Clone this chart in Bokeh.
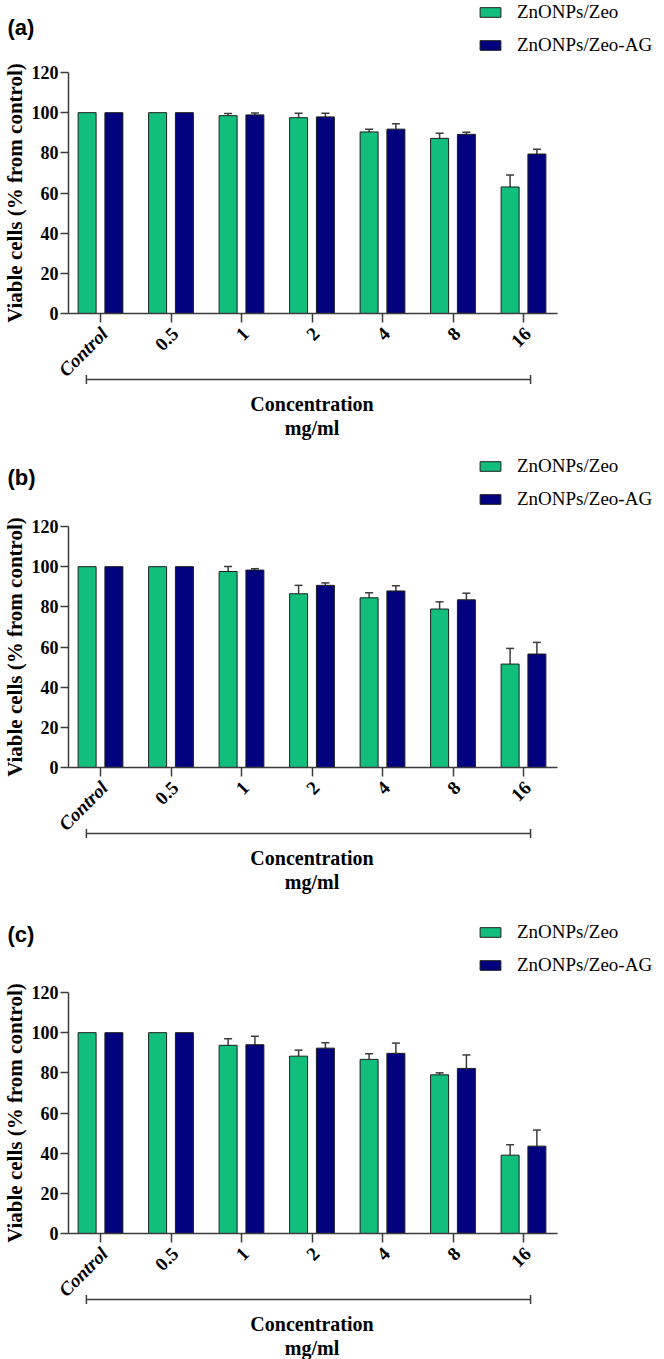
from math import pi
from bokeh.plotting import figure
from bokeh.layouts import column
from bokeh.models import (ColumnDataSource, Range1d, FixedTicker, Whisker, TeeHead,
                          LabelSet, Label, LinearAxis)
from bokeh.transform import dodge
from bokeh.core.properties import value
from bokeh.embed import file_html
from bokeh.resources import INLINE

# ---------------- data ----------------
categories = ["Control", "0.5", "1", "2", "4", "8", "16"]
category_styles = ["bold italic", "bold", "bold", "bold", "bold", "bold", "bold"]
series_names = ["ZnONPs/Zeo", "ZnONPs/Zeo-AG"]
y_ticks = [0, 20, 40, 60, 80, 100, 120]

a_zeo = [100, 100, 98.5, 97.5, 90.4, 87.2, 63.0]
a_zeo_err = [0, 0, 1.1, 2.2, 1.4, 2.5, 6.0]
a_ag = [100, 100, 98.9, 97.9, 91.8, 89.2, 79.4]
a_ag_err = [0, 0, 0.9, 1.8, 2.7, 1.0, 2.4]

b_zeo = [100, 100, 97.6, 86.5, 84.5, 78.9, 51.5]
b_zeo_err = [0, 0, 2.5, 4.2, 2.5, 3.6, 7.8]
b_ag = [100, 100, 98.3, 90.7, 87.9, 83.5, 56.5]
b_ag_err = [0, 0, 0.7, 1.2, 2.6, 3.3, 5.8]

c_zeo = [100, 100, 93.7, 88.3, 86.7, 79.0, 39.0]
c_zeo_err = [0, 0, 3.3, 3.0, 2.8, 1.0, 5.2]
c_ag = [100, 100, 94.0, 92.3, 89.7, 82.2, 43.5]
c_ag_err = [0, 0, 4.2, 2.7, 5.1, 6.7, 8.0]

# ---------------- style / geometry ----------------
GREEN = "#12BE7B"
NAVY = "#02027F"
EDGE = "#1e1e1e"
AXIS = "#3c3c3c"
SERIF = "Liberation Serif"
SANS = "Liberation Sans"
OFF = 0.19
BAR_W = 0.255
W = 664
PX_X = 70.5          # pixels per category step
X0_PX = 100          # pixel of first category
PX_Y = 241 / 120     # pixels per percent
AXIS_X_PX = 68       # pixel of the y axis
AXIS_END_PX = 557    # pixel where x axis ends


def px_to_x(px):
    return (px - X0_PX) / PX_X


def make_panel(tag, zeo, zeo_err, ag, ag_err, height, zero_px, tag_px, legend_px):
    # zero_px / tag_px / legend_px : vertical pixel positions inside the panel
    y_end = zero_px / PX_Y
    y_start = -(height - zero_px) / PX_Y
    p = figure(width=W, height=height, min_border=0, title=None,
               x_range=Range1d(px_to_x(0), px_to_x(W)), y_range=Range1d(y_start, y_end),
               x_axis_type=None, y_axis_type=None,
               output_backend="svg", toolbar_location=None, tools="")
    p.outline_line_color = None
    p.background_fill_color = "white"
    p.border_fill_color = "white"

    xs = list(range(len(categories)))
    src = ColumnDataSource(dict(x=xs, cat=categories, style=category_styles,
                                zeo=zeo, ag=ag))
    p.vbar(x=dodge("x", -OFF, range=p.x_range), top="zeo", width=BAR_W, source=src,
           fill_color=GREEN, line_color=EDGE, line_width=1, legend_label=series_names[0])
    p.vbar(x=dodge("x", OFF, range=p.x_range), top="ag", width=BAR_W, source=src,
           fill_color=NAVY, line_color=EDGE, line_width=1, legend_label=series_names[1])

    # error bars (upper only)
    for vals, errs, off in ((zeo, zeo_err, -OFF), (ag, ag_err, OFF)):
        idx = [i for i in xs if errs[i] > 0]
        esrc = ColumnDataSource(dict(x=[xs[i] + off for i in idx],
                                     lo=[vals[i] for i in idx],
                                     hi=[vals[i] + errs[i] for i in idx]))
        w = Whisker(source=esrc, base="x", lower="lo", upper="hi",
                    line_color=AXIS, line_width=1.5,
                    upper_head=TeeHead(size=8, line_color=AXIS, line_width=1.5),
                    lower_head=None)
        p.add_layout(w)

    # y axis
    ya = LinearAxis(fixed_location=px_to_x(AXIS_X_PX), bounds=(0, 120),
                    ticker=FixedTicker(ticks=y_ticks))
    ya.axis_label = "Viable cells (% from control)"
    ya.axis_label_text_font = SERIF
    ya.axis_label_text_font_style = "bold"
    ya.axis_label_text_font_size = "21px"
    ya.axis_label_text_color = "black"
    ya.axis_label_standoff = 2
    ya.major_label_text_font = SERIF
    ya.major_label_text_font_style = "bold"
    ya.major_label_text_font_size = "18px"
    ya.major_label_text_color = "black"
    ya.major_label_standoff = 2
    ya.major_tick_out = 8
    ya.major_tick_in = 0
    ya.minor_tick_out = 0
    ya.minor_tick_in = 0
    ya.axis_line_color = AXIS
    ya.axis_line_width = 1.5
    ya.major_tick_line_color = AXIS
    ya.major_tick_line_width = 1.5
    p.add_layout(ya, "left")

    # x axis (ticks only; labels drawn as rotated label set)
    xa = LinearAxis(fixed_location=0, bounds=(px_to_x(AXIS_X_PX), px_to_x(AXIS_END_PX)),
                    ticker=FixedTicker(ticks=xs))
    xa.major_label_overrides = {i: "" for i in xs}
    xa.major_tick_out = 9
    xa.major_tick_in = 0
    xa.minor_tick_out = 0
    xa.minor_tick_in = 0
    xa.axis_line_color = AXIS
    xa.axis_line_width = 1.5
    xa.major_tick_line_color = AXIS
    xa.major_tick_line_width = 1.5
    p.add_layout(xa, "below")

    labels = LabelSet(x="x", y=-17 / PX_Y, text="cat", source=src,
                      angle=pi / 4, text_align="right", text_baseline="middle",
                      text_font=value(SERIF), text_font_style="style",
                      text_font_size=value("19px"), text_color="black", x_offset=4)
    p.add_layout(labels)

    # bracket + axis title
    br = Whisker(base=-66 / PX_Y, lower=-OFF - 0.01, upper=6.1,
                 dimension="width", line_color=AXIS, line_width=1.5,
                 upper_head=TeeHead(size=9, line_color=AXIS, line_width=1.5),
                 lower_head=TeeHead(size=9, line_color=AXIS, line_width=1.5))
    p.add_layout(br)
    mid = (xs[0] + xs[-1]) / 2
    p.add_layout(Label(x=mid, y=-90 / PX_Y, text="Concentration",
                       text_font=SERIF, text_font_style="bold", text_font_size="20px",
                       text_align="center", text_baseline="middle", text_color="black"))
    p.add_layout(Label(x=mid, y=-114 / PX_Y, text="mg/ml",
                       text_font=SERIF, text_font_style="bold", text_font_size="20px",
                       text_align="center", text_baseline="middle", text_color="black"))

    # panel tag
    p.add_layout(Label(x=7, y=height - tag_px, x_units="screen", y_units="screen",
                       text=tag, text_font=SANS, text_font_style="bold",
                       text_font_size="22px", text_align="left", text_baseline="middle",
                       text_color="black"))

    lg = p.legend[0]
    leg_h = 53
    lg.location = (477, height - (legend_px - 10.5 + leg_h))
    lg.padding = 0
    lg.margin = 0
    lg.border_line_color = None
    lg.background_fill_alpha = 0
    lg.glyph_width = 26
    lg.glyph_height = 12
    lg.label_standoff = 14
    lg.spacing = 11
    lg.label_text_font = SERIF
    lg.label_text_font_size = "19px"
    lg.label_text_color = "black"
    return p


# panel a: page 0..454, b: 454..910, c: 910..1359
pa = make_panel("(a)", a_zeo, a_zeo_err, a_ag, a_ag_err, height=454,
                zero_px=313, tag_px=27, legend_px=13)
pb = make_panel("(b)", b_zeo, b_zeo_err, b_ag, b_ag_err, height=456,
                zero_px=767 - 454, tag_px=477 - 454, legend_px=467 - 454)
pc = make_panel("(c)", c_zeo, c_zeo_err, c_ag, c_ag_err, height=449,
                zero_px=1233 - 910, tag_px=934 - 910, legend_px=933 - 910)

layout = column(pa, pb, pc, spacing=0)
open("out.html", "w").write(file_html(layout, INLINE))
